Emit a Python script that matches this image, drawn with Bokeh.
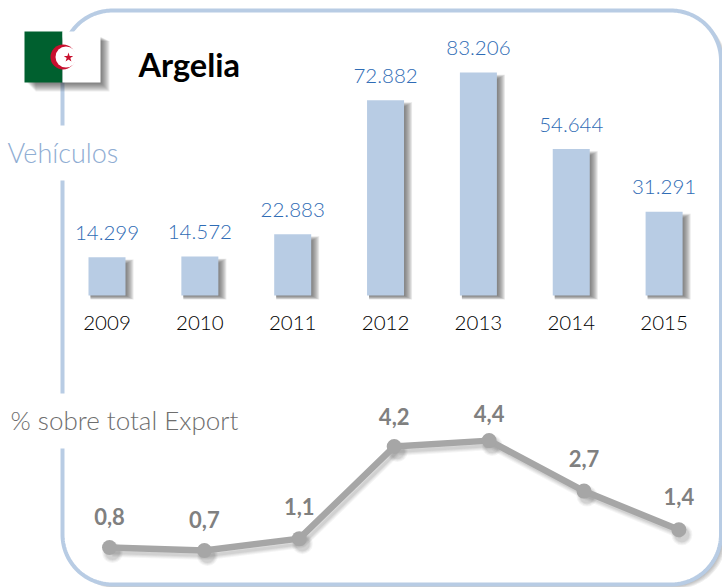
import numpy as np
from bokeh.plotting import figure
from bokeh.models import Range1d
from bokeh.core.properties import value
from bokeh.embed import file_html
from bokeh.resources import INLINE

years = ["2009", "2010", "2011", "2012", "2013", "2014", "2015"]
vehicles = [14299, 14572, 22883, 72882, 83206, 54644, 31291]
vehicle_labels = ["14.299", "14.572", "22.883", "72.882", "83.206", "54.644", "31.291"]
share = [0.8, 0.7, 1.1, 4.2, 4.4, 2.7, 1.4]
share_labels = ["0,8", "0,7", "1,1", "4,2", "4,4", "2,7", "1,4"]
title_text = "Argelia"
bar_caption = "Vehículos"
line_caption = "% sobre total Export"

FONT = "Lato"
LIGHT = "Lato Light, Lato"
BLUE = "#b8cce4"
W, H = 722, 587
# mapping from reference picture pixels
X0, DX = 106.5, 92.85
Y_BASE, PX_PER_V = 295, 223 / 83206
LX0, LDX = 109, 94.9
LY0, PX_PER_S = 570.8, 29.7

p = figure(width=W, height=H, output_backend="svg", toolbar_location=None,
           x_range=Range1d((0 - X0) / DX, (W - X0) / DX),
           y_range=Range1d((Y_BASE - H) / PX_PER_V, (Y_BASE - 0) / PX_PER_V),
           x_axis_type=None, y_axis_type=None, min_border=0,
           outline_line_color=None, background_fill_color="white", border_fill_color="white")
p.grid.visible = False
p.extra_x_ranges = {"px": Range1d(0, W), "lx": Range1d((0 - LX0) / LDX, (W - LX0) / LDX)}
p.extra_y_ranges = {"px": Range1d(H, 0), "ly": Range1d((LY0 - H) / PX_PER_S, (LY0 - 0) / PX_PER_S)}
PX = dict(x_range_name="px", y_range_name="px")
LN = dict(x_range_name="lx", y_range_name="ly")


def arc(cx, cy, r, a0, a1):
    t = np.radians(np.linspace(a0, a1, 40))
    return cx + r * np.cos(t), cy + r * np.sin(t)


L, T, R, B, RAD = 62, 10, 720.5, 584, 50
corners = [arc(L + RAD, T + RAD, RAD, 180, 270), arc(R - RAD, T + RAD, RAD, 270, 360),
           arc(R - RAD, B - RAD, RAD, 0, 90), arc(L + RAD, B - RAD, RAD, 90, 180)]
ox = np.concatenate([c[0] for c in corners])
oy = np.concatenate([c[1] for c in corners])

# panel shadow, fill and border
for d in [1, 2, 3, 4, 5, 6]:
    p.patch(ox + d * 0.9, oy + d * 0.7, fill_color="#505050", fill_alpha=0.09, line_color=None, **PX)
p.patch(ox, oy, fill_color="white", line_color=None, **PX)
top_x = np.concatenate([[L], corners[0][0], corners[1][0], corners[2][0], corners[3][0], [L]])
top_y = np.concatenate([[125], corners[0][1], corners[1][1], corners[2][1], corners[3][1], [448]])
p.line(top_x, top_y, line_color=BLUE, line_width=4, **PX)
p.line([L, L], [180, 393], line_color=BLUE, line_width=4, **PX)

# bars
idx = np.arange(len(years))
vals = np.array(vehicles, dtype=float)
bw = 37 / DX
for d in [1, 2, 3, 4, 5, 6, 7, 8]:
    p.quad(left=idx - bw / 2 + 2 / DX, right=idx + bw / 2 + d / DX,
           top=vals - (7 - d * 0.6) / PX_PER_V, bottom=-(d * 0.5) / PX_PER_V,
           fill_color="#505050", fill_alpha=0.13, line_color=None)
p.vbar(x=idx, top=vals, bottom=0, width=bw, fill_color=BLUE, line_color=None)
p.text(x=idx, y=vals, text=vehicle_labels, text_font=value(LIGHT), text_font_size="20.5px",
       text_color="#2f6cb5", text_align="center", text_baseline="middle", y_offset=-24.5)
p.text(x=idx, y=np.zeros(7), text=years, text_font=value(LIGHT), text_font_size="20.5px",
       text_color="#000000", text_align="center", text_baseline="middle", y_offset=27.5)

# line
svals = np.array(share)
for d, a in [(9, 0.05), (7, 0.06), (5, 0.07), (3, 0.08)]:
    p.line(idx + 3 / LDX, svals - 5 / PX_PER_S, line_color="#404040", line_width=d, line_alpha=a, **LN)
    p.scatter(idx + 3 / LDX, svals - 5 / PX_PER_S, size=12 + d, marker="circle", fill_color="#404040",
              fill_alpha=a, line_color=None, **LN)
p.line(idx, svals, line_color="#a6a6a6", line_width=6.5, **LN)
p.scatter(idx, svals, size=15, marker="circle", fill_color="#a6a6a6", line_color=None, **LN)
nudge = [-30, -30, -31, -29, -26, -32, -32]
for i in idx:
    p.text(x=[i], y=[svals[i]], text=[share_labels[i]], text_font=value(FONT), text_font_style="bold",
           text_font_size="22px", text_color="#808080", text_align="center", text_baseline="middle",
           y_offset=nudge[i] - 1, **LN)

# captions and title
p.text(x=[7], y=[152], text=[bar_caption], text_font=value(LIGHT), text_font_size="27px",
       text_color="#8fadd3", text_baseline="middle", **PX)
p.text(x=[10], y=[419], text=[line_caption], text_font=value(LIGHT), text_font_size="26px",
       text_color="#6e6e6e", text_baseline="middle", **PX)
p.text(x=[138], y=[64], text=[title_text], text_font=value(FONT), text_font_style="bold",
       text_font_size="32.5px", text_color="#000000", text_baseline="middle", **PX)

# flag
for d in [1, 2, 3, 4, 5, 6, 7, 8, 9]:
    p.quad(left=[26 + d], right=[100 + d], top=[36 + d * 0.5], bottom=[82 + d],
           fill_color="#303030", fill_alpha=0.09, line_color=None, **PX)
p.quad(left=[24], right=[62], top=[31], bottom=[82], fill_color="#00602f", line_color=None, **PX)
p.quad(left=[62], right=[100], top=[31], bottom=[82], fill_color="white", line_color=None, **PX)
p.circle(x=[62.5], y=[56.5], radius=12.5, fill_color="#c8102e", line_color=None, **PX)
p.circle(x=[65.5], y=[56.5], radius=10.5, fill_color="white", line_color=None, **PX)
p.scatter(x=[68], y=[57], size=10, marker="star", fill_color="#c8102e", line_color=None, **PX)

open("out.html", "w").write(file_html(p, INLINE))
